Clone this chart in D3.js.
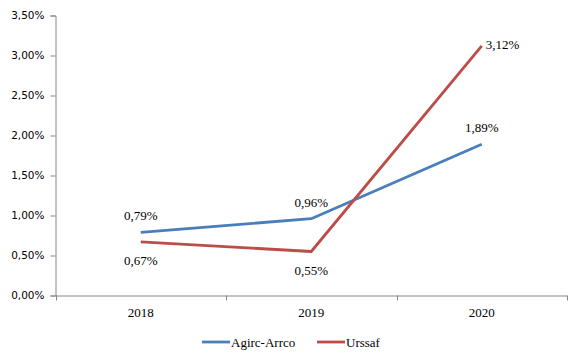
<!DOCTYPE html>
<html><head><meta charset="utf-8">
<script src="https://cdn.jsdelivr.net/npm/d3@7"></script>
<style>body{margin:0;background:#fff} .serif{font-family:"Liberation Serif","Times New Roman",serif;}</style>
</head><body>
<svg id="c" width="580" height="361"></svg>
<script>
const years = ["2018", "2019", "2020"];
const agirc = [0.79, 0.96, 1.89];
const urssaf = [0.67, 0.55, 3.12];
const yTicks = [0, 0.5, 1, 1.5, 2, 2.5, 3, 3.5];
const seriesNames = ["Agirc-Arrco", "Urssaf"];
const colors = ["#4A7EBB", "#BE4B48"];

const svg = d3.select("#c");
const x = d3.scaleBand().domain(years).range([55.5, 567]);
const y = d3.scaleLinear().domain([0, 3.5]).range([295.5, 15.5]);
const fmt = v => v.toFixed(2).replace(".", ",") + "%";

// y axis
const ya = svg.append("g").attr("transform", "translate(55.5,0)")
  .call(d3.axisLeft(y).tickValues(yTicks).tickFormat(fmt).tickSize(5).tickPadding(6));
ya.selectAll("path,line").attr("stroke", "#868686");
ya.attr("font-family", "DejaVu Sans").attr("font-size", "10.5px");
ya.selectAll("text").attr("fill", "#000");

// x axis
const xa = svg.append("g").attr("transform", "translate(0,295.5)")
  .call(d3.axisBottom(x).tickSize(0).tickPadding(12));
xa.select(".domain").attr("stroke", "#868686");
xa.attr("font-family", null).attr("font-size", "13px").attr("class", "serif");
xa.selectAll("text").attr("fill", "#000");
const bounds = [55.5].concat(years.map(d => x(d) + x.bandwidth()));
xa.selectAll(".sep").data(bounds).enter().append("line")
  .attr("x1", d => Math.round(d) + 0.5).attr("x2", d => Math.round(d) + 0.5)
  .attr("y1", 0).attr("y2", 5).attr("stroke", "#868686");

const line = d3.line().x((d, i) => x(years[i]) + x.bandwidth() / 2).y(d => y(d));
[agirc, urssaf].forEach((s, k) => {
  svg.append("path").datum(s).attr("d", line).attr("fill", "none")
    .attr("stroke", colors[k]).attr("stroke-width", 2.8).attr("stroke-linejoin", "round");
});

// data labels
const labels = svg.append("g").attr("class", "serif").attr("font-size", "13px").attr("fill", "#000");
agirc.forEach((v, i) => {
  labels.append("text").attr("x", x(years[i]) + x.bandwidth() / 2).attr("y", y(v) - 12)
    .attr("text-anchor", "middle").text(fmt(v));
});
urssaf.forEach((v, i) => {
  const cx = x(years[i]) + x.bandwidth() / 2;
  if (i < 2) {
    labels.append("text").attr("x", cx).attr("y", y(v) + 23).attr("text-anchor", "middle").text(fmt(v));
  } else {
    labels.append("text").attr("x", cx + 4).attr("y", y(v) + 3).attr("text-anchor", "start").text(fmt(v));
  }
});

// legend
const lg = svg.append("g").attr("class", "serif").attr("font-size", "13px");
const lx = [202, 317];
seriesNames.forEach((n, k) => {
  lg.append("line").attr("x1", lx[k]).attr("x2", lx[k] + 28).attr("y1", 342).attr("y2", 342)
    .attr("stroke", colors[k]).attr("stroke-width", 2.8);
  lg.append("text").attr("x", lx[k] + 29).attr("y", 346.5).text(n);
});
</script>
</body></html>
